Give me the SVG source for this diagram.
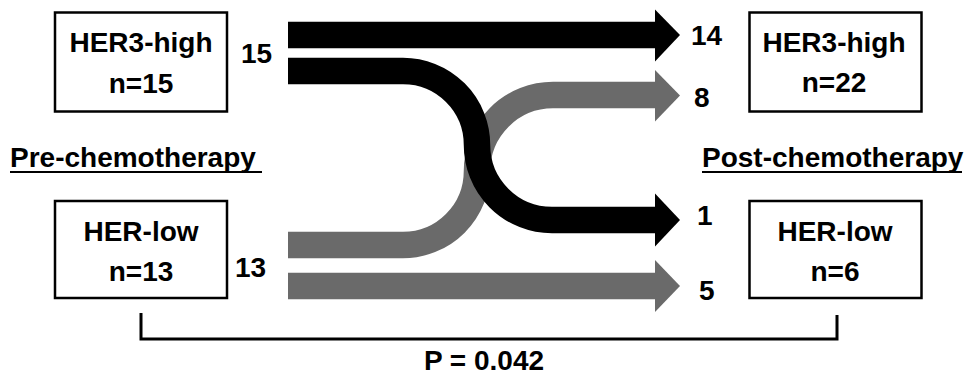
<svg xmlns="http://www.w3.org/2000/svg" width="971" height="377" viewBox="0 0 971 377">
  <style>
    .box { fill: #ffffff; stroke: #000000; stroke-width: 2.5; }
    .lbl { font-family: "Liberation Sans", Arial, sans-serif; font-weight: bold; font-size: 28px; fill: #000000; }
    .mid { text-anchor: middle; }
    .blk { fill: none; stroke: #000000; stroke-width: 26.5; }
    .gry { fill: none; stroke: #6a6a6a; stroke-width: 26.5; }
    .hb { fill: #000000; }
    .hg { fill: #6a6a6a; }
    .rule { stroke: #000000; stroke-width: 2; }
    .brk { fill: none; stroke: #000000; stroke-width: 3; }
  </style>

  <!-- flow arrows: grey drawn first so the black S passes over it -->
  <g id="connectors">
    <path class="gry" d="M288,286 H656"/>
    <polygon class="hg" points="655,260 680,286 655,312"/>
    <path class="gry" d="M288,245 H403 A74,74 0 0 0 477,171 A76,76 0 0 1 553,95 H656"/>
    <polygon class="hg" points="655,70 680,95.5 655,121.5"/>
    <path class="blk" d="M288,35 H656"/>
    <polygon class="hb" points="655,9.5 680,35 655,61.5"/>
    <path class="blk" d="M288,71 H403 A74,74 0 0 1 477,145 A75,75 0 0 0 552,220 H656"/>
    <polygon class="hb" points="655,193.5 680,220 655,246.5"/>
    <!-- significance bracket -->
    <path class="brk" d="M141,313 V339 H837 V315"/>
  </g>

  <g id="pre-high">
    <rect class="box" x="55" y="12.5" width="172" height="99"/>
    <text class="lbl mid" x="141" y="52">HER3-high</text>
    <text class="lbl mid" x="141" y="93">n=15</text>
  </g>
  <g id="pre-low">
    <rect class="box" x="55" y="201" width="172" height="97"/>
    <text class="lbl mid" x="141" y="241">HER-low</text>
    <text class="lbl mid" x="141" y="281">n=13</text>
  </g>
  <g id="post-high">
    <rect class="box" x="749.5" y="12.5" width="172" height="99"/>
    <text class="lbl mid" x="834" y="52">HER3-high</text>
    <text class="lbl mid" x="834" y="92">n=22</text>
  </g>
  <g id="post-low">
    <rect class="box" x="749.5" y="201" width="172" height="97"/>
    <text class="lbl mid" x="835" y="241">HER-low</text>
    <text class="lbl mid" x="835" y="281">n=6</text>
  </g>

  <g id="headings">
    <text class="lbl" x="10" y="167">Pre-chemotherapy</text>
    <line class="rule" x1="10" y1="172" x2="262" y2="172"/>
    <text class="lbl" x="702" y="167">Post-chemotherapy</text>
    <line class="rule" x1="702" y1="172" x2="962" y2="172"/>
  </g>

  <g id="counts">
    <text class="lbl" x="241" y="63">15</text>
    <text class="lbl" x="235" y="277">13</text>
    <text class="lbl" x="691" y="45">14</text>
    <text class="lbl" x="694" y="107">8</text>
    <text class="lbl" x="697" y="225">1</text>
    <text class="lbl" x="699" y="300">5</text>
    <text class="lbl mid" x="484" y="370">P = 0.042</text>
  </g>
</svg>
